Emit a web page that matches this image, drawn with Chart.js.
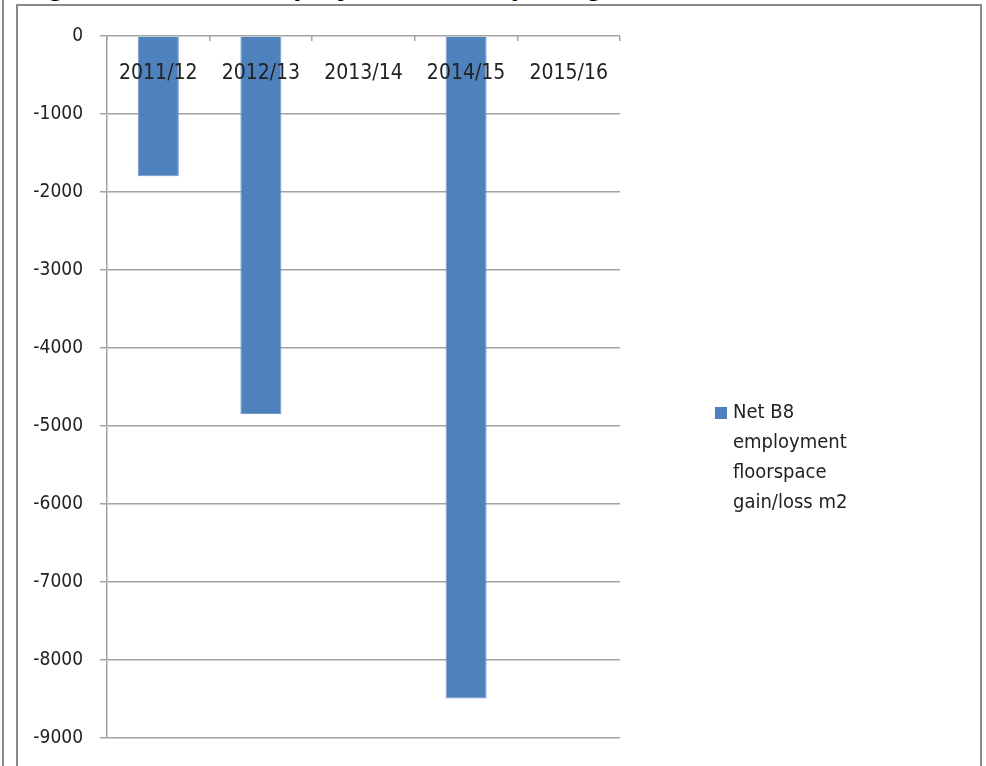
<!DOCTYPE html>
<html>
<head>
<meta charset="utf-8">
<script src="https://cdn.jsdelivr.net/npm/chart.js@4.4.1/dist/chart.umd.min.js"></script>
<style>
  html, body { margin: 0; padding: 0; background: #fff; }
  body { width: 986px; height: 766px; position: relative; overflow: hidden; }
  .page-rule { position: absolute; left: 2px; top: 0; width: 2px; height: 766px; background: #8a8a8a; }
  .heading {
    position: absolute; left: 21px; top: -29px; margin: 0;
    font: bold 29px/29px "Liberation Sans", Arial, sans-serif; color: #000; white-space: nowrap;
  }
  .frame {
    position: absolute; left: 16px; top: 4px; width: 962px; height: 800px;
    border: 2px solid #8a8a8a; border-bottom: none;
  }
  .chart-box { position: absolute; left: 0; top: 0; width: 986px; height: 766px; }
</style>
</head>
<body>
<div class="page-rule"></div>
<div class="frame"></div>
<h3 class="heading">Figure 1: Net B8 employment floorspace gain/loss</h3>
<div class="chart-box"><canvas id="b8Chart"></canvas></div>
<script>
// financial years and net B8 floorspace change (m2)
const years = ['2011/12', '2012/13', '2013/14', '2014/15', '2015/16'];
const netB8 = [-1800, -4850, 0, -8500, 0];
const seriesName = 'Net B8 employment floorspace gain/loss m2';
const legendLines = ['Net B8', 'employment', 'floorspace', 'gain/loss m2'];
const yTicks = [0, -1000, -2000, -3000, -4000, -5000, -6000, -7000, -8000, -9000];

const FONT = '"DejaVu Sans Condensed", "Liberation Sans Narrow", sans-serif';
const BAR_BLUE = '#4f81bd';
const GRID = '#a3a3a3';

// legend sits to the right, text wrapped over several lines
const sideLegend = {
  id: 'sideLegend',
  afterDraw(chart) {
    const ctx = chart.ctx;
    const x = chart.chartArea.right + 95;
    const y = 413;
    ctx.save();
    ctx.fillStyle = BAR_BLUE;
    ctx.fillRect(x, y - 6, 12, 12);
    ctx.fillStyle = '#222';
    ctx.font = '20px ' + FONT;
    ctx.textBaseline = 'middle';
    legendLines.forEach((line, i) => ctx.fillText(line, x + 18, y + i * 30));
    ctx.restore();
  }
};

const ctx = document.getElementById('b8Chart').getContext('2d');
const chart = new Chart(ctx, {
  type: 'bar',
  data: {
    labels: years,
    datasets: [{
      label: seriesName,
      data: netB8,
      backgroundColor: BAR_BLUE,
      borderColor: '#6f97c9',
      borderWidth: 1,
      barPercentage: 0.4,
      categoryPercentage: 1.0
    }]
  },
  options: {
    responsive: true,
    maintainAspectRatio: false,
    animation: false,
    layout: { padding: { left: 20, right: 366, top: 36, bottom: 27 } },
    plugins: {
      legend: { display: false },
      tooltip: { enabled: false }
    },
    scales: {
      x: {
        position: { y: 0 },
        grid: { drawOnChartArea: false, drawTicks: true, tickLength: 5, color: GRID, lineWidth: 1.5, offset: true },
        border: { display: false },
        ticks: {
          z: 1,   // year labels sit on top of the bars
          color: '#222',
          font: { family: FONT, size: 21 },
          padding: 20,
          maxRotation: 0
        }
      },
      y: {
        min: -9000,
        max: 0,
        afterFit(scale) { scale.width = 87; },
        afterBuildTicks(scale) { scale.ticks = yTicks.map(v => ({ value: v })); },
        grid: { color: GRID, lineWidth: 1.5, tickLength: 7 },
        border: { display: true, color: GRID, width: 1.5 },
        ticks: {
          color: '#222',
          font: { family: FONT, size: 19 },
          padding: 17,
          callback: v => String(v)
        }
      }
    }
  },
  plugins: [sideLegend]
});
</script>
</body>
</html>
